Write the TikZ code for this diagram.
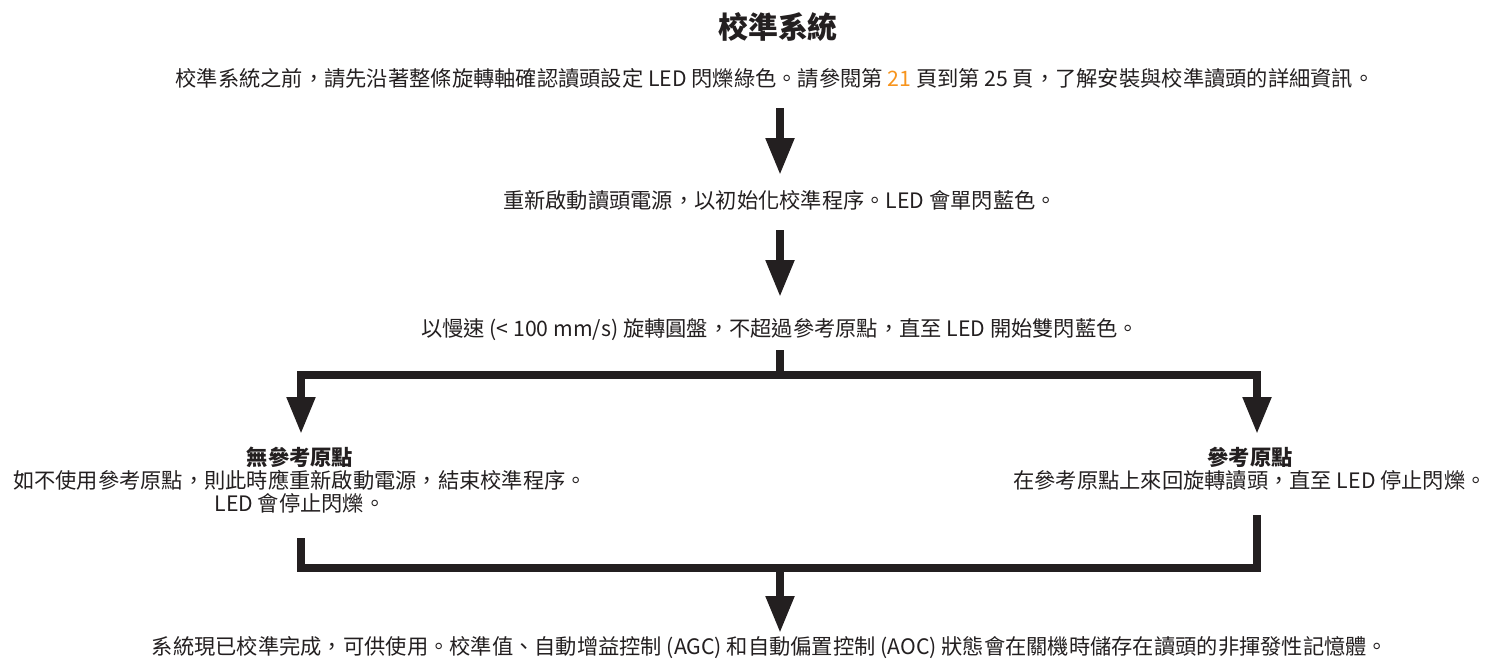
\documentclass[tikz,border=0pt]{standalone}
\usepackage{fontspec}
\setmainfont{Noto Sans CJK TC}
\usetikzlibrary{arrows.meta}
\definecolor{inkgray}{HTML}{231F20}
\definecolor{pageorange}{HTML}{F7941D}
\tikzset{
  txt/.style={inner sep=0pt,text=inkgray,align=center,font=\fontsize{12.1}{13.1}\selectfont},
  flowline/.style={draw=inkgray,line width=0.16cm},
  flowarrow/.style={flowline,-{Triangle[width=0.54cm,length=0.74cm]}}
}
\begin{document}
\begin{tikzpicture}[x=0.02cm,y=-0.02cm]
	    \useasboundingbox (0,0) rectangle (1493,664);
	    \node[txt,font=\fontsize{17}{20}\selectfont\bfseries] (title) at (778,27) {校準系統};
	    \node[txt] (l1) at (775,78) {校準系統之前，請先沿著整條旋轉軸確認讀頭設定 LED 閃爍綠色。請參閱第 \textcolor{pageorange}{21} 頁到第 25 頁，了解安裝與校準讀頭的詳細資訊。};
	    \node[txt] (l2) at (780,200) {重新啟動讀頭電源，以初始化校準程序。LED 會單閃藍色。};
	    \node[txt] (l3) at (780,330) {以慢速 (< 100 mm/s) 旋轉圓盤，不超過參考原點，直至 LED 開始雙閃藍色。};
	    \node[txt] (noref) at (300,480) {\textbf{無參考原點}\\如不使用參考原點，則此時應重新啟動電源，結束校準程序。\\LED 會停止閃爍。};
	    \node[txt] (ref) at (1250,468.5) {\textbf{參考原點}\\在參考原點上來回旋轉讀頭，直至 LED 停止閃爍。};
	    \node[txt] (l5) at (770,648) {系統現已校準完成，可供使用。校準值、自動增益控制 (AGC) 和自動偏置控制 (AOC) 狀態會在關機時儲存在讀頭的非揮發性記憶體。};
	    \coordinate (split) at (780,375);
	    \coordinate (noref in) at (301,434);
	    \coordinate (ref in) at (1257,434);
	    \coordinate (noref out) at (301,538);
	    \coordinate (ref out) at (1257,515);
	    \coordinate (merge) at (780,568);
	    \draw[flowarrow,shorten <=0.6cm,shorten >=0.5cm] (l1.center -| l2.center) -- (l2.center);
	    \draw[flowarrow,shorten <=0.6cm,shorten >=0.66cm] (l2.center) -- (l3.center);
	    \draw[flowarrow,shorten <=0.4cm] (l3.center -| split) -- (split) -| (noref in);
	    \draw[flowarrow] (split) -| (ref in);
	    \draw[flowline] (noref out) |- (merge) -| (ref out);
	    \draw[flowarrow,shorten >=0.3cm] (merge) -- (merge |- l5.center);
	\end{tikzpicture}
\end{document}
